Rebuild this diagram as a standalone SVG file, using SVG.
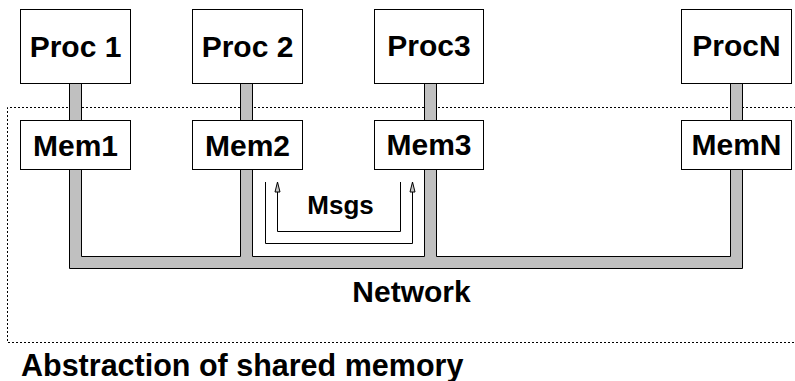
<svg xmlns="http://www.w3.org/2000/svg" width="795" height="381" viewBox="0 0 795 381">
  <style>
    .box { fill: #ffffff; stroke: #000000; stroke-width: 1; }
    .bus { fill: #c0c0c0; stroke: #000000; stroke-width: 1; stroke-linejoin: miter; }
    .lbl { font-family: "Liberation Sans", Arial, sans-serif; font-weight: bold; fill: #000000; text-anchor: middle; }
    .big { font-size: 30px; }
    .msg { fill: none; stroke: #000000; stroke-width: 1; }
    .frame { fill: none; stroke: #000000; stroke-width: 1; stroke-dasharray: 2 2; }
  </style>
  <defs>
    <!-- small upward arrowhead for the message paths -->
    <marker id="arrow" markerWidth="8" markerHeight="12" refX="3.5" refY="1" orient="0" markerUnits="userSpaceOnUse" viewBox="0 0 7 12">
      <path d="M3.5,1 L6,11 L1,11 Z" fill="#c8c8c8" stroke="#000000" stroke-width="1"/>
    </marker>
  </defs>

  <rect width="795" height="381" fill="#ffffff"/>

  <!-- shared-memory boundary (open on the right) -->
  <path class="frame" d="M800,107.5 H7.5 V342.5 H800"/>

  <g id="connectors">
    <!-- processor to memory links -->
    <rect class="bus" x="69.5" y="83.5" width="12" height="37"/>
    <rect class="bus" x="240.5" y="83.5" width="12" height="37"/>
    <rect class="bus" x="424.5" y="83.5" width="12" height="37"/>
    <rect class="bus" x="730.5" y="83.5" width="12" height="37"/>
    <!-- interconnection network -->
    <path class="bus" d="M69.5,169.5 V268.5 H742.5 V169.5 H730.5 V256.5 H436.5 V169.5 H424.5 V256.5 H252.5 V169.5 H240.5 V256.5 H81.5 V169.5 Z"/>
    <!-- message paths between memories -->
    <polyline class="msg" points="265.5,182 265.5,243.5 412.5,243.5 412.5,182" marker-end="url(#arrow)"/>
    <polyline class="msg" points="400.5,182 400.5,231.5 277.5,231.5 277.5,182" marker-end="url(#arrow)"/>
  </g>

  <g id="proc1">
    <rect class="box" x="20.5" y="9.5" width="110" height="74"/>
    <text class="lbl big" x="75.5" y="57">Proc 1</text>
  </g>
  <g id="proc2">
    <rect class="box" x="192.5" y="9.5" width="110" height="74"/>
    <text class="lbl big" x="247.5" y="57">Proc 2</text>
  </g>
  <g id="proc3">
    <rect class="box" x="374.5" y="9.5" width="109" height="74"/>
    <text class="lbl big" x="429" y="56">Proc3</text>
  </g>
  <g id="procN">
    <rect class="box" x="681.5" y="9.5" width="110" height="74"/>
    <text class="lbl big" x="736.5" y="56">ProcN</text>
  </g>

  <g id="mem1">
    <rect class="box" x="20.5" y="120.5" width="110" height="49"/>
    <text class="lbl big" x="75.5" y="156">Mem1</text>
  </g>
  <g id="mem2">
    <rect class="box" x="192.5" y="120.5" width="110" height="49"/>
    <text class="lbl big" x="247.5" y="156">Mem2</text>
  </g>
  <g id="mem3">
    <rect class="box" x="374.5" y="120.5" width="109" height="49"/>
    <text class="lbl big" x="429" y="155">Mem3</text>
  </g>
  <g id="memN">
    <rect class="box" x="681.5" y="120.5" width="110" height="49"/>
    <text class="lbl big" x="736.5" y="155">MemN</text>
  </g>

  <text class="lbl" x="340.5" y="214" font-size="26">Msgs</text>
  <text class="lbl big" x="411.5" y="302">Network</text>
  <text class="lbl" x="21" y="376" font-size="30.5" style="text-anchor:start">Abstraction of shared memory</text>
</svg>
